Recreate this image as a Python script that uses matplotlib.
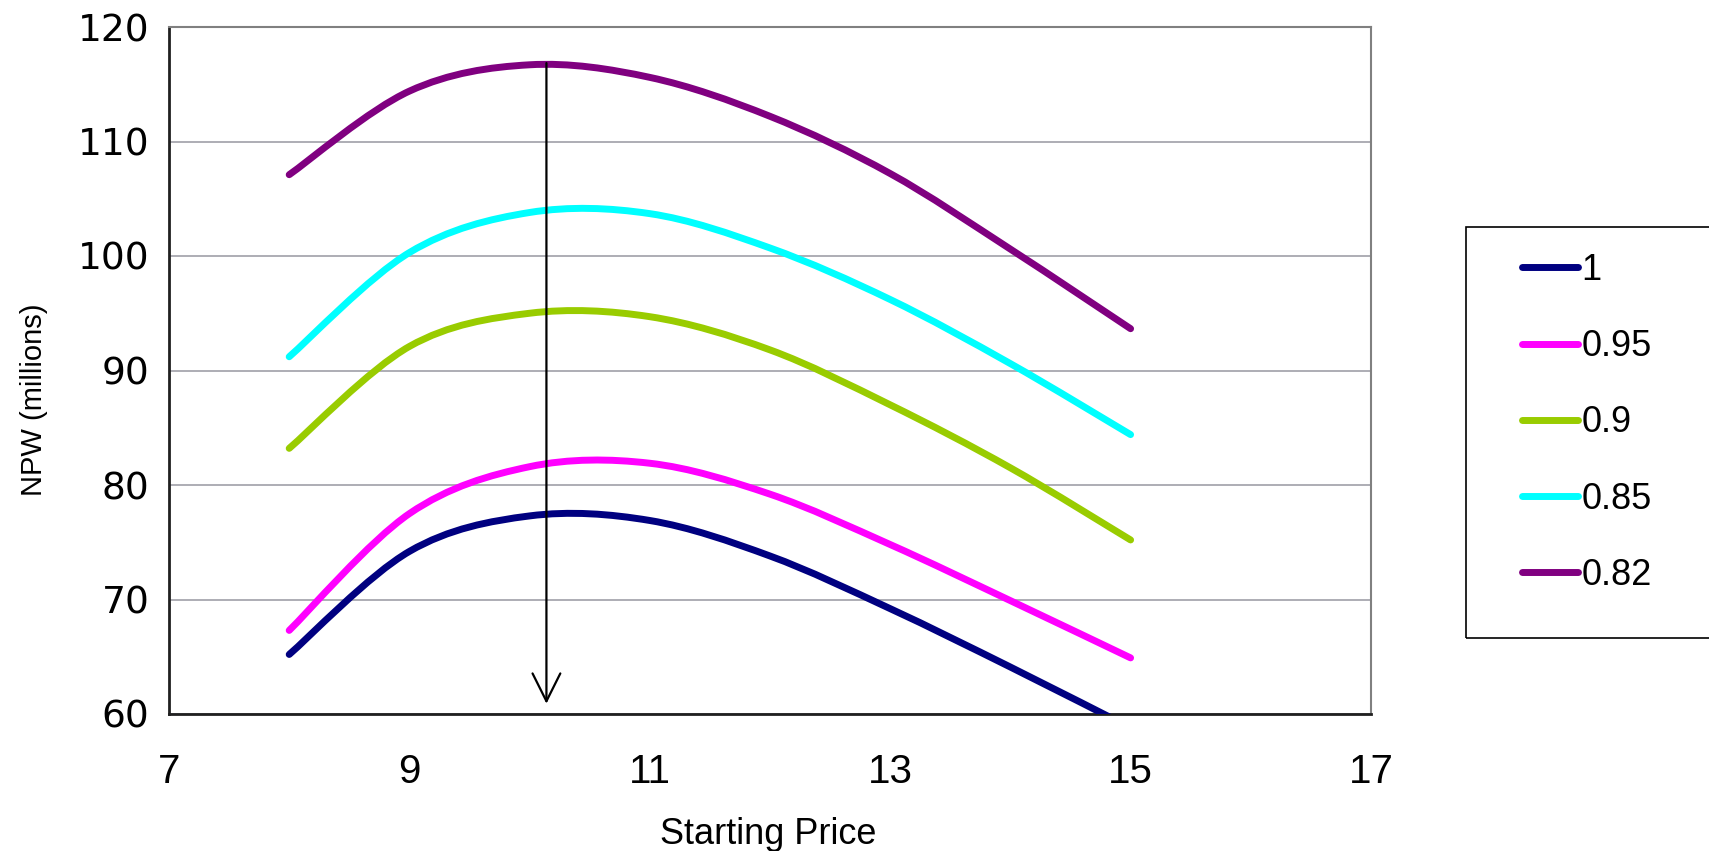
import numpy as np
import matplotlib
matplotlib.use('Agg')
import matplotlib.pyplot as plt
from matplotlib.path import Path
from matplotlib.patches import PathPatch, Rectangle
from matplotlib.lines import Line2D

# starting price vs NPW for each demand factor
price = [8, 9, 10, 11, 12, 13, 14, 15]
npw_100 = [65.2, 74.2, 77.3, 76.9, 73.8, 69.2, 64.1, 58.8]
npw_095 = [67.3, 77.5, 81.6, 81.9, 79.2, 74.8, 69.9, 64.9]
npw_090 = [83.2, 92.1, 95.0, 94.7, 91.8, 87.0, 81.5, 75.2]
npw_085 = [91.2, 100.3, 103.8, 103.7, 100.7, 96.2, 90.6, 84.4]
npw_082 = [107.1, 114.4, 116.7, 115.6, 112.2, 107.2, 100.6, 93.65]

series = [npw_100, npw_095, npw_090, npw_085, npw_082]
labels = ['1', '0.95', '0.9', '0.85', '0.82']
colors = ['#000080', '#FF00FF', '#99CC00', '#00FFFF', '#800080']

best_price = 10.14
best_top = 116.85
best_bottom = 60.9


def smooth_path(x, y):
    # excel-style smoothed line: cubic bezier through every point
    pts = np.column_stack([x, y]).astype(float)
    n = len(pts)
    verts = [pts[0]]
    codes = [Path.MOVETO]
    for i in range(n - 1):
        p0 = pts[max(i - 1, 0)]
        p1 = pts[i]
        p2 = pts[i + 1]
        p3 = pts[min(i + 2, n - 1)]
        verts += [p1 + (p2 - p0) / 6.0, p2 - (p3 - p1) / 6.0, p2]
        codes += [Path.CURVE4] * 3
    return Path(verts, codes)


W, H = 1709, 851
fig = plt.figure(figsize=(W / 100, H / 100), dpi=100)
ax = fig.add_axes([169 / W, 1 - 714 / H, (1371 - 169) / W, (714 - 27) / H])

handles = []
for vals, lab, col in zip(series, labels, colors):
    patch = PathPatch(smooth_path(price, vals), fill=False, edgecolor=col,
                      lw=5, capstyle='round', joinstyle='round', zorder=3)
    ax.add_patch(patch)
    handles.append(Line2D([], [], color=col, lw=5, solid_capstyle='round'))

ax.annotate('', xy=(best_price, best_bottom), xytext=(best_price, best_top),
            arrowprops=dict(arrowstyle='->,head_length=1.0,head_width=0.5',
                            mutation_scale=20, lw=1.6, color='black',
                            shrinkA=0, shrinkB=0), zorder=4)

ax.set_xlim(7, 17)
ax.set_ylim(60, 120)
ax.set_xticks([7, 9, 11, 13, 15, 17])
ax.set_yticks(np.arange(60, 121, 10))
ax.yaxis.grid(True, color='#A0A0A8', lw=1.2)
ax.set_axisbelow(True)
ax.tick_params(length=0)
ax.tick_params(axis='x', pad=28, labelsize=29)
ax.tick_params(axis='y', pad=14, labelsize=27)
for t in ax.get_xticklabels():
    t.set_family('Liberation Sans')
for t in ax.get_yticklabels():
    t.set_family('DejaVu Sans')

for side in ['top', 'right']:
    ax.spines[side].set_color('#808080')
    ax.spines[side].set_linewidth(1.5)
for side in ['left', 'bottom']:
    ax.spines[side].set_color('#202020')
    ax.spines[side].set_linewidth(2)

fig.text(768 / W, 1 - 834 / H, 'Starting Price', ha='center', va='center',
         fontsize=26, family='Liberation Sans')
fig.text(34 / W, 1 - 400 / H, 'NPW (millions)', ha='center', va='center',
         rotation=90, fontsize=21, family='Liberation Sans')

# legend box runs off the right edge
fig.add_artist(Rectangle((1466 / W, 1 - 638 / H), 300 / W, (638 - 227) / H,
                         transform=fig.transFigure, fill=False,
                         edgecolor='black', lw=1.2))
fig.legend(handles, labels, loc='upper left',
           bbox_to_anchor=(1522 / W, 1 - 253 / H), frameon=False,
           borderpad=0, borderaxespad=0, handlelength=1.55,
           handletextpad=0.1, labelspacing=1.14,
           prop={'family': 'Liberation Sans', 'size': 26})

fig.savefig('out.png', dpi=100)
